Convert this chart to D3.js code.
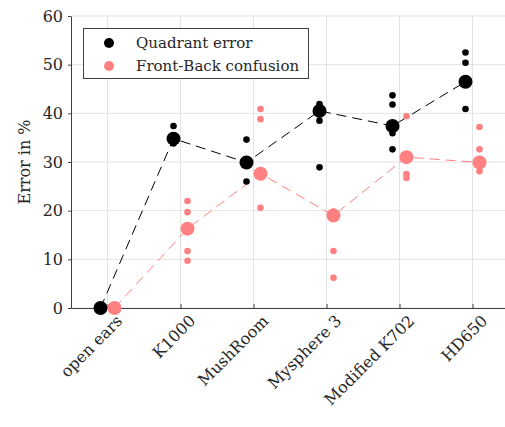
<!DOCTYPE html>
<meta charset="utf-8">
<head>
  <title>Error in %</title>
  <style>
    body { margin: 0; background: #fff; }
    text { font-family: "DejaVu Serif", serif; fill: #262626; }
  </style>
</head>
<body>
<script src="https://d3js.org/d3.v7.min.js"></script>
<script>
var WIDTH = 505,
    HEIGHT = 427,
    FONT = "DejaVu Serif, serif";

var categories = ["open ears", "K1000", "MushRoom", "Mysphere 3", "Modified K702", "HD650"];
var yTicks = [0, 10, 20, 30, 40, 50, 60];

// mean values per headphone
var quadrantMean = [0, 34.8, 29.9, 40.5, 37.4, 46.5];
var frontBackMean = [0, 16.3, 27.6, 19.0, 31.0, 29.9];

// single subjects
var quadrantSingle = [
  [0, 0, 0, 0],
  [37.4, 35.5, 34.2, 33.8],
  [34.6, 26.0, 29.3, 30.5],
  [41.9, 41.2, 39.9, 38.5, 28.9],
  [43.7, 41.8, 35.9, 32.6],
  [52.5, 50.4, 40.9, 46.0]
];
var frontBackSingle = [
  [0, 0, 0, 0],
  [22.0, 19.7, 11.7, 9.7],
  [40.9, 38.8, 20.6, 27.0],
  [19.8, 11.7, 6.2, 19.3],
  [39.4, 27.5, 26.7, 31.5],
  [37.2, 32.6, 28.1, 29.5]
];

var x = d3.scaleLinear().domain([0.5, 6.5]).range([71, 71 + 6 * 73]);
var y = d3.scaleLinear().domain([0, 60]).range([308, 16]);

var svg = d3.select("body").append("svg")
    .attr("width", WIDTH)
    .attr("height", HEIGHT);

// grid
svg.append("g").selectAll("line").data(d3.range(1, 7)).enter().append("line")
    .attr("x1", function(d) { return x(d); })
    .attr("x2", function(d) { return x(d); })
    .attr("y1", y(0)).attr("y2", y(60))
    .attr("stroke", "#e3e3e3").attr("stroke-width", 1);
svg.append("g").selectAll("line").data(yTicks).enter().append("line")
    .attr("x1", x(0.5)).attr("x2", WIDTH)
    .attr("y1", function(d) { return y(d); })
    .attr("y2", function(d) { return y(d); })
    .attr("stroke", "#e3e3e3").attr("stroke-width", 1);

// axes
var xAxis = svg.append("g")
    .attr("transform", "translate(0," + y(0) + ")")
    .call(d3.axisBottom(x).tickValues(d3.range(1, 7)).tickSizeInner(-4).tickSizeOuter(0).tickFormat(""));
var yAxis = svg.append("g")
    .attr("transform", "translate(" + x(0.5) + ",0)")
    .call(d3.axisLeft(y).tickValues(yTicks).tickSizeInner(3).tickSizeOuter(0));
[xAxis, yAxis].forEach(function(a) {
  a.attr("font-family", FONT);
  a.select(".domain").attr("stroke", "#404040");
  a.selectAll(".tick line").attr("stroke", "#404040");
});
yAxis.selectAll(".tick text")
    .attr("x", -8)
    .style("font-size", "16px")
    .attr("fill", "#262626");

svg.append("g").selectAll("text").data(categories).enter().append("text")
    .attr("transform", function(d, i) { return "translate(" + (x(i + 1) + 8) + ",314) rotate(-45)"; })
    .attr("text-anchor", "end")
    .attr("dy", "0.7em")
    .style("font-size", "16px")
    .text(function(d) { return d; });

svg.append("text")
    .attr("transform", "translate(30," + y(30) + ") rotate(-90)")
    .attr("text-anchor", "middle")
    .style("font-size", "16px")
    .text("Error in %");

// series
var series = [
  {mean: quadrantMean, single: quadrantSingle, color: "#000000", off: -7},
  {mean: frontBackMean, single: frontBackSingle, color: "#ff8080", off: 7}
];

var line = d3.line()
    .x(function(d) { return d[0]; })
    .y(function(d) { return y(d[1]); });

series.forEach(function(s) {
  var pts = s.mean.map(function(v, i) { return [x(i + 1) + s.off, v]; });
  svg.append("path")
      .attr("d", line(pts))
      .attr("fill", "none")
      .attr("stroke", s.color)
      .attr("stroke-width", 1)
      .attr("stroke-dasharray", "10,6");
});

series.forEach(function(s) {
  var g = svg.append("g").attr("fill", s.color);
  s.single.forEach(function(arr, i) {
    arr.forEach(function(v) {
      g.append("circle")
          .attr("cx", x(i + 1) + s.off)
          .attr("cy", y(v))
          .attr("r", 3.3);
    });
  });
  s.mean.forEach(function(v, i) {
    g.append("circle")
        .attr("cx", x(i + 1) + s.off)
        .attr("cy", y(v))
        .attr("r", 7);
  });
});

// legend
var legend = svg.append("g");
legend.append("rect")
    .attr("x", 83.5).attr("y", 28.5)
    .attr("width", 225).attr("height", 50)
    .attr("fill", "#fff").attr("stroke", "#404040").attr("stroke-width", 1);
var legendItems = ["Quadrant error", "Front-Back confusion"];
legendItems.forEach(function(t, i) {
  legend.append("circle")
      .attr("cx", 109).attr("cy", 43 + i * 23)
      .attr("r", 5)
      .attr("fill", series[i].color);
  legend.append("text")
      .attr("x", 136).attr("y", 43 + i * 23)
      .attr("dy", "0.35em")
      .style("font-size", "15px")
      .text(t);
});
</script>
</body>
